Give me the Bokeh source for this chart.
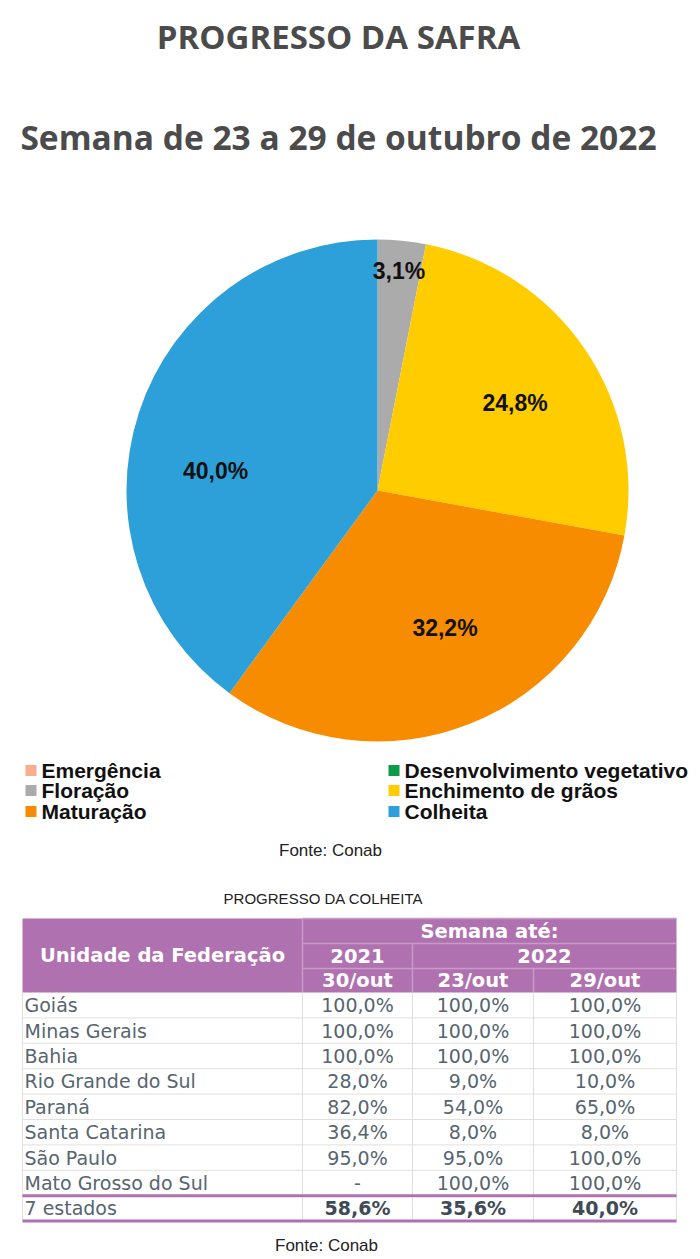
import math
from bokeh.plotting import figure
from bokeh.models import ColumnDataSource, Range1d
from bokeh.core.properties import value
from bokeh.embed import file_html
from bokeh.resources import INLINE

W, H = 700, 1259

# ---------------- data ----------------
title = "PROGRESSO DA SAFRA"
subtitle = "Semana de 23 a 29 de outubro de 2022"

stages = ["Floração", "Enchimento de grãos", "Maturação", "Colheita"]
stage_pct = [3.1, 24.8, 32.2, 40.0]
stage_colors = ["#ABABAB", "#FFCC00", "#F78C00", "#2EA0D9"]

legend_labels = ["Emergência", "Floração", "Maturação",
                 "Desenvolvimento vegetativo", "Enchimento de grãos", "Colheita"]
legend_colors = ["#F8AE8C", "#ABABAB", "#F78C00", "#0F9A48", "#FFCC00", "#2EA0D9"]

source_note = "Fonte: Conab"
table_title = "PROGRESSO DA COLHEITA"
states = ["Goiás", "Minas Gerais", "Bahia", "Rio Grande do Sul", "Paraná",
          "Santa Catarina", "São Paulo", "Mato Grosso do Sul", "7 estados"]
col_2021_30out = ["100,0%", "100,0%", "100,0%", "28,0%", "82,0%", "36,4%", "95,0%", "-", "58,6%"]
col_2022_23out = ["100,0%", "100,0%", "100,0%", "9,0%", "54,0%", "8,0%", "95,0%", "100,0%", "35,6%"]
col_2022_29out = ["100,0%", "100,0%", "100,0%", "10,0%", "65,0%", "8,0%", "100,0%", "100,0%", "40,0%"]
header_main = "Unidade da Federação"
header_week = "Semana até:"
header_years = ["2021", "2022"]
header_dates = ["30/out", "23/out", "29/out"]

# label placement (layout only): radial fraction and angular nudge (deg)
label_rfrac = [0.88, 0.65, 0.61, 0.65]
label_dang = [0.0, -1.7, 4.4, 11.2]


def Y(py):
    return H - py


p = figure(width=W, height=H, x_range=Range1d(0, W), y_range=Range1d(0, H),
           output_backend="svg", toolbar_location=None, min_border=0)
p.axis.visible = False
p.grid.visible = False
p.outline_line_color = None
p.background_fill_color = "white"
p.border_fill_color = "white"

# ---------------- titles ----------------
p.text(x=[338], y=[Y(36)], text=[title], text_font=value("Open Sans"),
       text_font_style="bold", text_font_size="33px", text_color="#4B4B4B",
       text_align="center", text_baseline="middle")
p.text(x=[338], y=[Y(136)], text=[subtitle], text_font=value("Open Sans"),
       text_font_style="bold", text_font_size="33.5px", text_color="#4B4B4B",
       text_align="center", text_baseline="middle")

# ---------------- pie ----------------
cx, cy, r = 377, Y(490), 251
total = sum(stage_pct)
starts, ends, lx, ly = [], [], [], []
acc = 0.0
for i, v in enumerate(stage_pct):
    a0 = math.pi / 2 - 2 * math.pi * acc / total
    a1 = math.pi / 2 - 2 * math.pi * (acc + v) / total
    starts.append(a0)
    ends.append(a1)
    mid = (a0 + a1) / 2 + math.radians(label_dang[i])
    rr = label_rfrac[i] * r
    lx.append(cx + rr * math.cos(mid))
    ly.append(cy + rr * math.sin(mid))
    acc += v
pie_src = ColumnDataSource(dict(start=starts, end=ends, color=stage_colors,
                                lx=lx, ly=ly,
                                lab=[f"{v:.1f}%".replace(".", ",") for v in stage_pct]))
p.wedge(x=cx, y=cy, radius=r, start_angle="start", end_angle="end",
        direction="clock", fill_color="color", line_color=None, source=pie_src)
p.text(x="lx", y="ly", text="lab", source=pie_src, text_font=value("Liberation Sans"),
       text_font_style="bold", text_font_size="23px", text_color="#111111",
       text_align="center", text_baseline="middle")

# ---------------- legend ----------------
leg_x = [25, 25, 25, 388, 388, 388]
leg_y = [Y(770), Y(790), Y(811), Y(770), Y(790), Y(811)]
p.rect(x=[x + 5.5 for x in leg_x], y=leg_y, width=11, height=11,
       fill_color=legend_colors, line_color=None)
p.text(x=[x + 16 for x in leg_x], y=leg_y, text=legend_labels,
       text_font=value("Liberation Sans"), text_font_style="bold",
       text_font_size="21px", text_color="#111111", text_baseline="middle")

p.text(x=[330], y=[Y(850)], text=[source_note], text_font=value("Liberation Sans"),
       text_font_size="17px", text_color="#222222", text_align="center",
       text_baseline="middle")

# ---------------- table ----------------
p.text(x=[323], y=[Y(898)], text=[table_title], text_font=value("Liberation Sans"),
       text_font_size="15px", text_color="#222222", text_align="center",
       text_baseline="middle")

tl, tr = 22, 676
c1, c2, c3 = 302, 412, 533
h0, h1, h2, h3 = 918, 943, 968, 992
purple = "#B071B0"
p.quad(left=[tl], right=[tr], top=[Y(h0)], bottom=[Y(h3)], fill_color=purple,
       line_color=None)
hl = "#C99AC8"
p.segment(x0=[c1, c1, c2, c3, c1, c1], y0=[Y(h0), Y(h0), Y(h1), Y(h2), Y(h1), Y(h2)],
          x1=[c1, tr, c2, c3, tr, tr], y1=[Y(h3), Y(h0), Y(h3), Y(h3), Y(h1), Y(h2)],
          line_color=hl, line_width=1.5)
hdr_font = value("DejaVu Sans")
hfs = "19.5px"
p.text(x=[(tl + c1) / 2], y=[Y((h0 + h3) / 2)], text=[header_main], text_font=hdr_font,
       text_font_style="bold", text_font_size=hfs, text_color="white",
       text_align="center", text_baseline="middle")
p.text(x=[(c1 + tr) / 2], y=[Y((h0 + h1) / 2)], text=[header_week], text_font=hdr_font,
       text_font_style="bold", text_font_size=hfs, text_color="white",
       text_align="center", text_baseline="middle")
p.text(x=[(c1 + c2) / 2, (c2 + tr) / 2], y=[Y((h1 + h2) / 2)] * 2, text=header_years,
       text_font=hdr_font, text_font_style="bold", text_font_size=hfs,
       text_color="white", text_align="center", text_baseline="middle")
p.text(x=[(c1 + c2) / 2, (c2 + c3) / 2, (c3 + tr) / 2], y=[Y((h2 + h3) / 2)] * 3,
       text=header_dates, text_font=hdr_font, text_font_style="bold",
       text_font_size=hfs, text_color="white", text_align="center",
       text_baseline="middle")

# body
n = len(states)
body_top = h3
rh = 25.4
row_tops = [body_top + i * rh for i in range(n)]
row_bots = [t + rh for t in row_tops]
grid_c = "#E2DEDE"
p.segment(x0=[tl] * (n - 2), x1=[tr] * (n - 2),
          y0=[Y(b) for b in row_bots[:-2]], y1=[Y(b) for b in row_bots[:-2]],
          line_color=grid_c, line_width=1)
p.segment(x0=[tl, c1, c2, c3, tr], x1=[tl, c1, c2, c3, tr],
          y0=[Y(body_top)] * 5, y1=[Y(row_bots[-1])] * 5,
          line_color=grid_c, line_width=1)
p.segment(x0=[tl, tl], x1=[tr, tr], y0=[Y(row_tops[-1]), Y(row_bots[-1])],
          y1=[Y(row_tops[-1]), Y(row_bots[-1])], line_color=purple, line_width=3)

ys = [Y(t + rh / 2) for t in row_tops]
body_font = value("DejaVu Sans")
tc = "#56656F"
bfs = "19px"
p.text(x=[24] * n, y=ys, text=states, text_font=body_font, text_font_size=bfs,
       text_color=tc, text_baseline="middle")
for xc, col in [((c1 + c2) / 2, col_2021_30out), ((c2 + c3) / 2, col_2022_23out),
                ((c3 + tr) / 2, col_2022_29out)]:
    p.text(x=[xc] * (n - 1), y=ys[:-1], text=col[:-1], text_font=body_font,
           text_font_size=bfs, text_color=tc, text_align="center",
           text_baseline="middle")
    p.text(x=[xc], y=ys[-1:], text=col[-1:], text_font=body_font,
           text_font_style="bold", text_font_size=bfs, text_color="#3E4A55",
           text_align="center", text_baseline="middle")

p.text(x=[326], y=[Y(1245)], text=[source_note], text_font=value("Liberation Sans"),
       text_font_size="17px", text_color="#222222", text_align="center",
       text_baseline="middle")

open("out.html", "w").write(file_html(p, INLINE))
